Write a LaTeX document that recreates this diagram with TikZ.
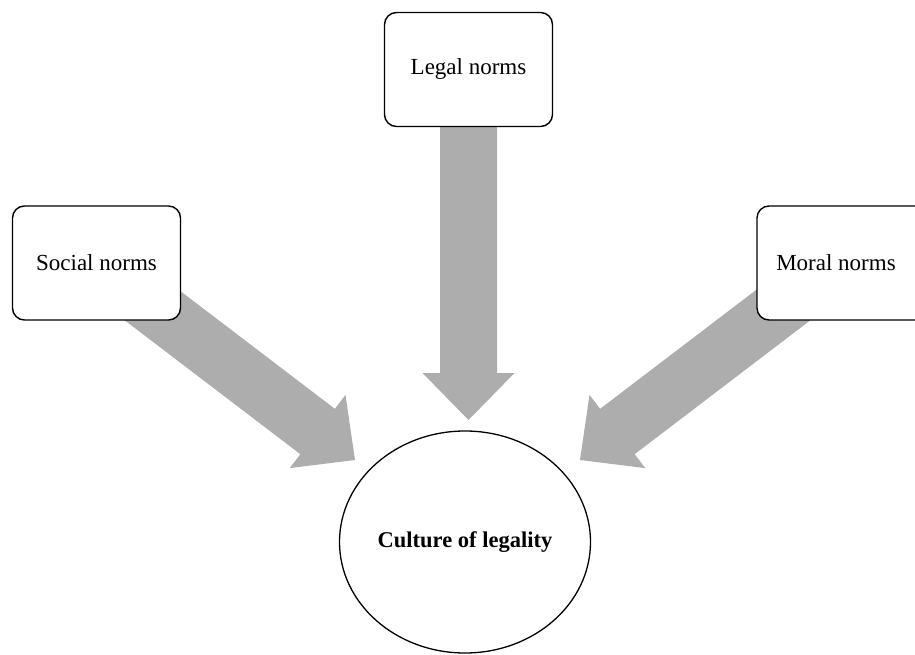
\documentclass[tikz,border=0pt]{standalone}
\usepackage{fontspec}
\setmainfont{Liberation Serif}
\usetikzlibrary{calc,shapes.geometric,backgrounds}
\definecolor{arrowgray}{RGB}{173,173,173}
\tikzset{
  normbox/.style={draw=black, line width=1.4pt, fill=white, rounded corners=12pt,
    minimum width=168pt, minimum height=114pt, inner sep=0pt,
    font=\fontsize{23}{27}\selectfont},
  culture/.style={draw=black, line width=1.3pt, fill=white, ellipse,
    minimum width=251pt, minimum height=222pt, inner sep=0pt,
    font=\bfseries\fontsize{22.5}{27}\selectfont},
  arrowfill/.style={fill=arrowgray}
}
\newcommand{\blockarrow}[2]{%
  \coordinate (bh) at ($(#2)!47pt!(#1)$);
  \fill[arrowfill] (#2) -- ($(bh)!46pt!90:(#2)$) -- ($(bh)!28.5pt!90:(#2)$)
    -- ($(#1)!28.5pt!90:(#2)$) -- ($(#1)!28.5pt!-90:(#2)$)
    -- ($(bh)!28.5pt!-90:(#2)$) -- ($(bh)!46pt!-90:(#2)$) -- cycle;}
\begin{document}
\begin{tikzpicture}[x=1pt,y=-1pt]
\useasboundingbox (0,0) rectangle (915,655);
\node[normbox] (legal) at (468.5,69.5) {Legal norms};
\node[normbox] (social) at (96.5,263) {Social norms};
\node[normbox, minimum width=180pt] (moral) at (847,263) {\hspace*{-22pt}Moral norms};
\node[culture] (cult) at (465,542) {Culture of legality};
\coordinate (tipS) at (355,460);
\coordinate (tipL) at (468.5,420);
\coordinate (tipM) at (580,460);
\coordinate (moralaxis) at (838.5,263);
\begin{scope}[on background layer]
  \blockarrow{social.center}{tipS}
  \blockarrow{legal.center}{tipL}
  \blockarrow{moralaxis}{tipM}
\end{scope}
\end{tikzpicture}
\end{document}
